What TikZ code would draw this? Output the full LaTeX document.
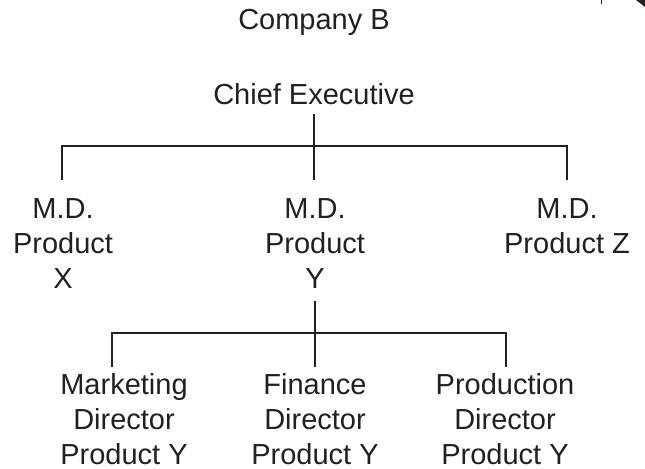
\documentclass[tikz,border=0pt]{standalone}
\usepackage{fontspec}
\setmainfont{Liberation Sans}
\definecolor{ink}{HTML}{231F20}
\begin{document}
\begin{tikzpicture}[
        post/.style = {anchor = north, inner sep = 0, align = center, text = ink,
            font = \fontsize{16.5}{20}\selectfont},
        link/.style = {draw = ink, line width = 1.1pt}
    ]
        \useasboundingbox (0,0) rectangle (12.9,9.38);
        \node[post] (company) at (6.28,9.20) {Company B};
        \node[post] (ceo) at (6.28,7.72) {Chief Executive};
        \node[post] (mdX) at (1.26,5.42) {M.D.\\Product\\X};
        \node[post] (mdY) at (6.30,5.42) {M.D.\\Product\\Y};
        \node[post] (mdZ) at (11.34,5.42) {M.D.\\Product Z};
        \node[post] (mkt) at (2.48,1.92) {Marketing\\Director\\Product Y};
        \node[post] (fin) at (6.30,1.92) {Finance\\Director\\Product Y};
        \node[post] (prod) at (10.10,1.92) {Production\\Director\\Product Y};
        \coordinate (bar1) at (6.28,6.46);
        \coordinate (bar2) at (6.30,2.72);
        \begin{scope}[style = link]
            \draw (ceo.south) ++(0,-0.18) -- (bar1);
            \draw ([xshift = -0.02cm, yshift = 0.36cm]mdX.north) |- (bar1) -| ([yshift = 0.36cm]mdZ.north);
            \draw (bar1) -- ([xshift = -0.02cm, yshift = 0.36cm]mdY.north);
            \draw ([yshift = -0.24cm]mdY.south) -- ([yshift = 0.12cm]fin.north);
            \draw ([xshift = -0.24cm, yshift = 0.12cm]mkt.north) |- (bar2) -| ([xshift = 0.02cm, yshift = 0.12cm]prod.north);
        \end{scope}
        % scan marks in the corner
        \draw[ink, line width = 0.6pt] (12.03,9.38) -- (12.03,9.30);
        \fill[ink] (12.72,9.38) -- (12.9,9.38) -- (12.9,9.24) -- cycle;
    \end{tikzpicture}
\end{document}
